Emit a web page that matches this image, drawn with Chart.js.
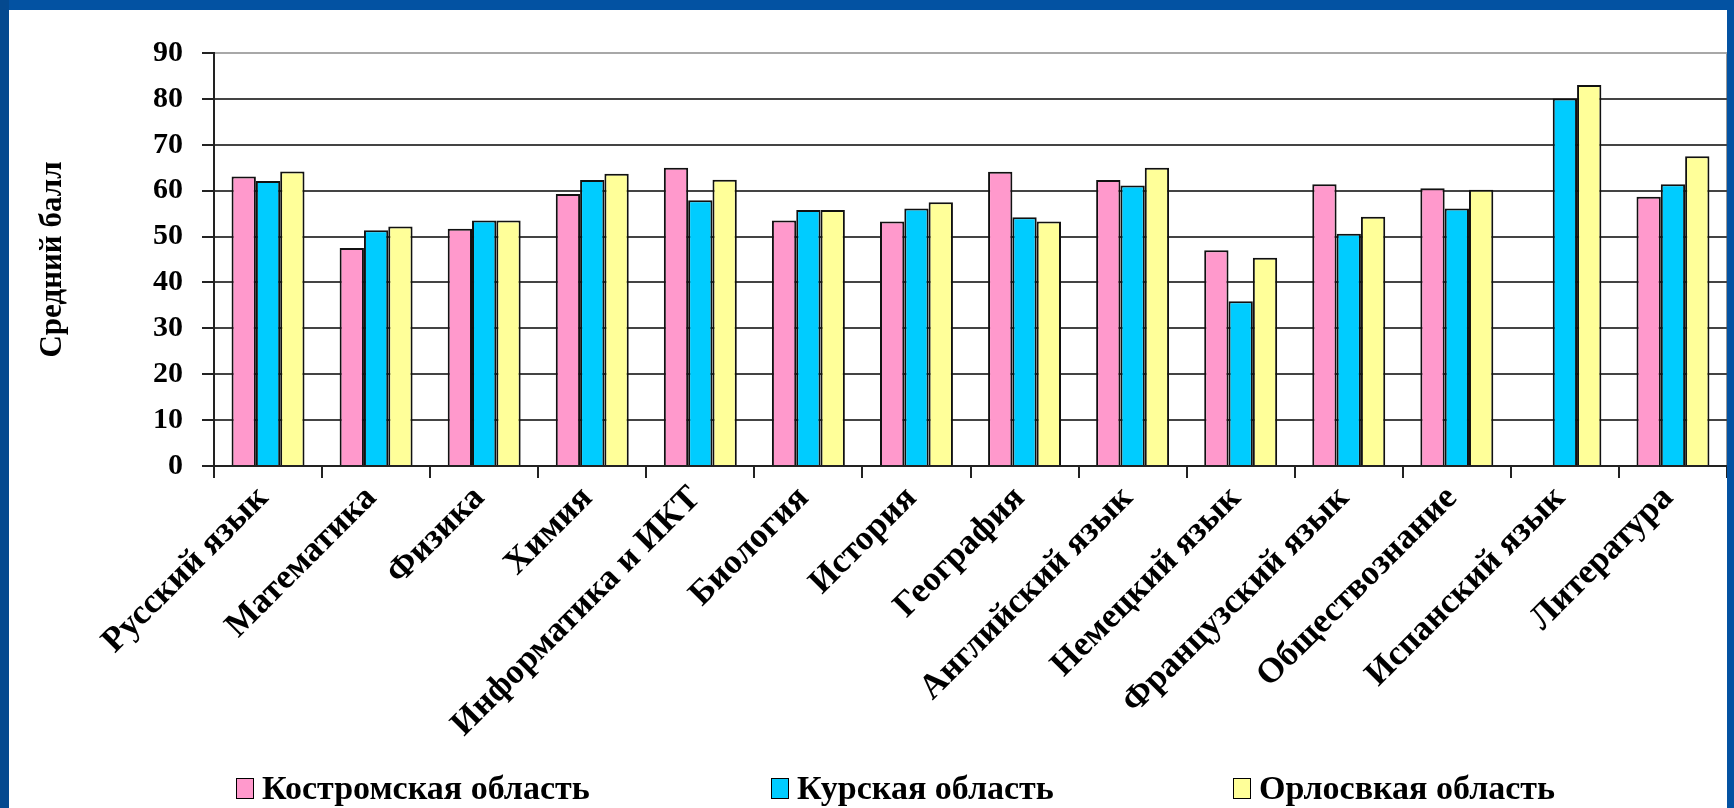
<!DOCTYPE html>
<html>
<head>
<meta charset="utf-8">
<script src="https://cdn.jsdelivr.net/npm/chart.js@4.4.1/dist/chart.umd.min.js"></script>
<style>
  html, body { margin: 0; padding: 0; background: #fff; overflow: hidden; }
  #wrap { position: relative; width: 1734px; height: 808px; }
  #chart { position: absolute; left: 0; top: 0; }
  .edge { position: absolute; background: #0352a2; }
  #edgeTop { left: 0; top: 0; width: 1734px; height: 10px; }
  #edgeLeft { left: 0; top: 0; width: 9px; height: 808px; background: #04498f; }
  #edgeRight { right: 0; top: 0; width: 7px; height: 808px; }
</style>
</head>
<body>
<div id="wrap">
  <canvas id="chart" width="1734" height="808"></canvas>
  <div class="edge" id="edgeTop"></div>
  <div class="edge" id="edgeLeft"></div>
  <div class="edge" id="edgeRight"></div>
</div>
<script>
const subjects = ['Русский язык', 'Математика', 'Физика', 'Химия', 'Информатика и ИКТ', 'Биология', 'История',
  'География', 'Английский язык', 'Немецкий язык', 'Французский язык', 'Обществознание', 'Испанский язык', 'Литература'];
const kostroma = [63.1, 47.5, 51.7, 59.3, 65.0, 53.5, 53.3, 64.1, 62.3, 47.0, 61.4, 60.5, null, 58.7];
const kursk = [62.1, 51.4, 53.5, 62.3, 57.9, 55.8, 56.1, 54.2, 61.1, 35.9, 50.6, 56.1, 80.1, 61.4];
const orel = [64.2, 52.2, 53.5, 63.7, 62.4, 55.8, 57.5, 53.3, 65.0, 45.4, 54.3, 60.2, 83.0, 67.5];
const regions = ['Костромская область', 'Курская область', 'Орлосвкая область'];
const yMin = 0, yMax = 90, yStep = 10;
const yTitle = 'Средний балл';

const serif = "'Liberation Serif', 'Times New Roman', serif";
const legendX = [236, 771, 1233];

// legend is drawn by hand: Excel spreads the items far apart
const bottomLegend = {
    id: 'bottomLegend',
    afterDraw(chart) {
        const ctx = chart.ctx
        const y = 789
        ctx.save()
        ctx.font = 'bold 34px ' + serif
        ctx.textBaseline = 'middle'
        chart.data.datasets.forEach((ds, i) => {
            const x = legendX[i]
            ctx.fillStyle = ds.backgroundColor
            ctx.fillRect(x, y - 11, 18, 21)
            ctx.strokeStyle = '#000'
            ctx.lineWidth = 1
            ctx.strokeRect(x + 0.5, y - 10.5, 17, 20)
            ctx.fillStyle = '#000'
            ctx.fillText(ds.label, x + 26, y + 1)
        })
        ctx.restore()
    }
}

const bar = (label, data, color) => ({
    label: label,
    data: data,
    backgroundColor: color,
    borderColor: '#111',
    borderWidth: 2,
    categoryPercentage: 0.675,
    barPercentage: 1.0
})

new Chart(document.getElementById('chart'), {
    type: 'bar',
    data: {
        labels: subjects,
        datasets: [
            bar(regions[0], kostroma, '#ff99cc'),
            bar(regions[1], kursk, '#00ccff'),
            bar(regions[2], orel, '#ffff99')
        ]
    },
    options: {
        responsive: false,
        animation: false,
        layout: { padding: { top: 53, left: 30, right: 7, bottom: 0 } },
        plugins: {
            legend: { display: false },
            tooltip: { enabled: false }
        },
        scales: {
            x: {
                grid: {
                    offset: true,
                    color: c => c.type === 'tick' ? 'rgba(0,0,0,0)' : '#9a9a9a',
                    tickColor: '#222',
                    tickLength: 12,
                    lineWidth: 2
                },
                border: { color: '#222', width: 2 },
                ticks: {
                    autoSkip: false,
                    maxRotation: 45,
                    minRotation: 45,
                    padding: 0,
                    labelOffset: -5,
                    color: '#000',
                    font: { family: serif, size: 35, weight: 'bold' }
                },
                afterFit: s => { s.height = 808 - 466 }
            },
            y: {
                min: yMin,
                max: yMax,
                ticks: {
                    stepSize: yStep,
                    padding: 19,
                    color: '#000',
                    font: { family: serif, size: 30, weight: 'bold' }
                },
                grid: {
                    color: c => c.tick && c.tick.value === yMax ? '#a8a8a8' : '#444',
                    tickColor: '#222',
                    tickLength: 12,
                    lineWidth: 2
                },
                border: { color: '#222', width: 2 },
                title: {
                    display: true,
                    text: yTitle,
                    color: '#000',
                    padding: { top: 4, bottom: 0 },
                    font: { family: serif, size: 31, weight: 'bold' }
                },
                afterFit: s => { s.width = 184 }
            }
        }
    },
    plugins: [bottomLegend]
})
</script>
</body>
</html>
